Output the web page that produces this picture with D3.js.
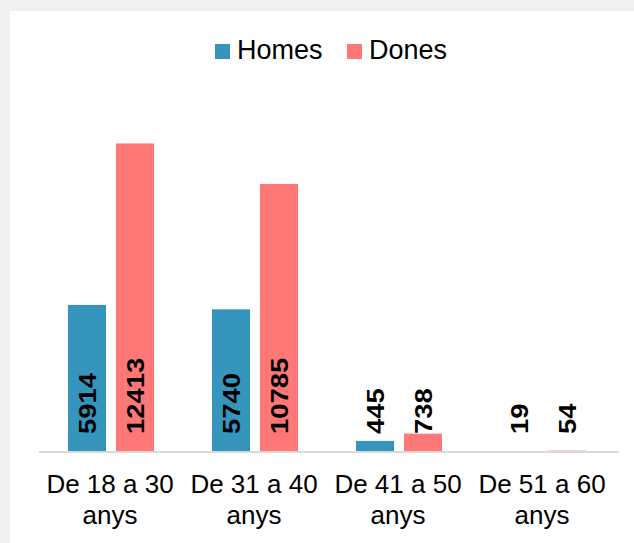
<!DOCTYPE html>
<html>
<head>
<meta charset="utf-8">
<script src="https://cdn.jsdelivr.net/npm/d3@7"></script>
<style>
  html, body { margin: 0; padding: 0; background: #f0f0f0; }
  svg { display: block; font-family: "Liberation Sans", Arial, sans-serif; }
</style>
</head>
<body>
<script>
const categories = ["De 18 a 30 anys", "De 31 a 40 anys", "De 41 a 50 anys", "De 51 a 60 anys"];
const seriesNames = ["Homes", "Dones"];
const homes = [5914, 5740, 445, 19];
const dones = [12413, 10785, 738, 54];
const colors = ["#3595bc", "#ff7777"];

const W = 634, H = 543;
const svg = d3.select("body").append("svg").attr("width", W).attr("height", H);

svg.append("rect").attr("x", 0).attr("y", 0).attr("width", W).attr("height", H).attr("fill", "#f0f0f0");
svg.append("rect").attr("x", 10).attr("y", 11).attr("width", W - 10).attr("height", H - 11).attr("fill", "#ffffff");

const x0 = d3.scaleBand().domain(categories).range([39, 615]).paddingInner(0).paddingOuter(0);
const x1 = d3.scaleBand().domain(seriesNames).range([29, 115]).paddingInner(10 / 48).paddingOuter(0);
const y = d3.scaleLinear().domain([0, 14000]).range([452, 104]);

const data = categories.map((c, i) => ({ cat: c, values: [homes[i], dones[i]] }));

const groups = svg.append("g").selectAll("g").data(data).join("g")
  .attr("transform", d => `translate(${x0(d.cat)},0)`);

groups.selectAll("rect").data(d => d.values.map((v, j) => ({ key: seriesNames[j], v, j })))
  .join("rect")
  .attr("x", d => x1(d.key))
  .attr("y", d => y(d.v))
  .attr("width", x1.bandwidth())
  .attr("height", d => y(0) - y(d.v))
  .attr("fill", d => colors[d.j]);

// value labels
groups.selectAll("text.val").data(d => d.values.map((v, j) => ({ key: seriesNames[j], v, j })))
  .join("text").attr("class", "val")
  .attr("transform", d => `translate(${x1(d.key) + x1.bandwidth() / 2 + 1},${y(0) - 18}) rotate(-90) scale(1.12,1)`)
  .attr("text-anchor", "start")
  .attr("dominant-baseline", "central")
  .attr("font-size", 24.5)
  .attr("font-weight", "bold")
  .attr("fill", "#000")
  .text(d => d.v);

// axis line
svg.append("line").attr("x1", 39).attr("x2", 619).attr("y1", y(0)).attr("y2", y(0))
  .attr("stroke", "#d9d9d9").attr("stroke-width", 2);

// category labels (two lines)
const catLabels = svg.append("g").selectAll("text").data(categories).join("text")
  .attr("text-anchor", "middle")
  .attr("font-size", 26)
  .attr("fill", "#000");
catLabels.each(function (c) {
  const t = d3.select(this);
  const cx = x0(c) + x0.bandwidth() / 2 - 1;
  const parts = c.split(" ");
  const l1 = parts.slice(0, 4).join(" ");
  const l2 = parts.slice(4).join(" ");
  t.append("tspan").attr("x", cx).attr("y", 493).text(l1);
  t.append("tspan").attr("x", cx).attr("y", 524).text(l2);
});

// legend
const legendPos = [215, 347];
const lg = svg.append("g").selectAll("g").data(seriesNames).join("g")
  .attr("transform", (d, i) => `translate(${legendPos[i]},44)`);
lg.append("rect").attr("width", 15).attr("height", 15).attr("fill", (d, i) => colors[i]);
lg.append("text").attr("x", 22).attr("y", 15).attr("font-size", 27).attr("fill", "#000").text(d => d);
</script>
</body>
</html>
